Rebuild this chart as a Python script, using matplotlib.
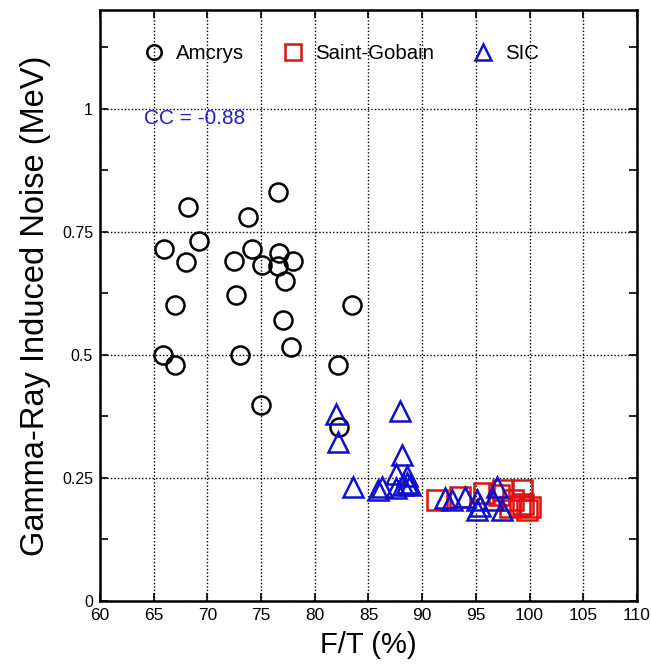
import numpy as np
import matplotlib
matplotlib.use("Agg")
import matplotlib.pyplot as plt

plt.rcParams['font.family'] = ['Liberation Sans', 'DejaVu Sans']

# Amcrys (circles)
amcrys_ft = [76.6, 68.2, 73.8, 66.0, 69.2, 68.0, 72.5, 74.2, 76.7, 75.1, 76.6, 78.0,
             77.2, 72.7, 67.0, 83.5, 77.0, 65.9, 67.0, 73.0, 77.8, 82.2, 75.0, 82.3]
amcrys_noise = [0.831, 0.800, 0.780, 0.715, 0.731, 0.688, 0.690, 0.715, 0.707, 0.682, 0.680, 0.690,
                0.650, 0.621, 0.601, 0.601, 0.570, 0.500, 0.479, 0.499, 0.515, 0.479, 0.397, 0.354]

# Saint-Gobain (squares)
sg_ft = [91.4, 93.5, 95.8, 97.5, 99.3, 97.2, 98.5, 99.4, 99.8, 99.1, 98.2, 100.0]
sg_noise = [0.206, 0.212, 0.220, 0.226, 0.226, 0.216, 0.206, 0.196, 0.185, 0.192, 0.190, 0.190]

# SIC (triangles)
sic_ft = [82.0, 82.2, 87.9, 88.1, 83.6, 85.9, 86.3, 87.6, 87.6, 88.6, 88.2, 88.9, 88.6,
          92.1, 92.8, 94.0, 95.1, 95.4, 95.1, 97.0, 96.6, 97.4]
sic_noise = [0.379, 0.322, 0.385, 0.297, 0.232, 0.226, 0.232, 0.257, 0.230, 0.253, 0.236, 0.236, 0.240,
             0.210, 0.206, 0.212, 0.206, 0.192, 0.185, 0.232, 0.206, 0.185]

xticks = [60, 65, 70, 75, 80, 85, 90, 95, 100, 105, 110]
yticks = [0, 0.25, 0.5, 0.75, 1]
ytick_labels = ['0', '0.25', '0.5', '0.75', '1']

fig = plt.figure(figsize=(6.51, 6.68), dpi=100)
ax = fig.add_axes([0.1536, 0.1003, 0.8248, 0.8847])

ax.plot(amcrys_ft, amcrys_noise, 'o', ms=13, mfc='none', mec='black', mew=1.8, label='Amcrys')
ax.plot(sg_ft, sg_noise, 's', ms=14, mfc='none', mec='#dd1111', mew=1.8, label='Saint-Gobain')
ax.plot(sic_ft, sic_noise, '^', ms=14, mfc='none', mec='#1010cc', mew=1.8, label='SIC')

ax.set_xlim(60, 110)
ax.set_ylim(0, 1.2)
ax.set_xticks(xticks)
ax.set_yticks(yticks)
ax.set_yticklabels(ytick_labels)
ax.set_yticks(np.arange(0.125, 1.2, 0.25), minor=True)

ax.grid(True, which='major', color='black', linestyle=(0, (1, 1.5)), linewidth=1.0)
ax.tick_params(axis='both', which='both', direction='in', top=True, right=True)
ax.tick_params(axis='both', which='both', length=6, width=1.2)
ax.tick_params(axis='x', labelsize=12.5, pad=5)
ax.tick_params(axis='y', labelsize=11.5, pad=5)
for s in ax.spines.values():
    s.set_linewidth(1.8)

ax.set_xlabel('F/T (%)', fontsize=21, labelpad=6)
ax.set_ylabel('Gamma-Ray Induced Noise (MeV)', fontsize=23.5, labelpad=8)

ax.text(64.1, 0.98, 'CC = -0.88', color='#2222bb', fontsize=15, va='center')

ax.legend(loc='upper left', bbox_to_anchor=(0.082, 0.943), ncol=3, frameon=False, fontsize=14.7,
          markerscale=0.8, handletextpad=0.58, columnspacing=1.9, handlelength=1.0,
          borderpad=0, borderaxespad=0)

fig.savefig('out.png', dpi=100)
